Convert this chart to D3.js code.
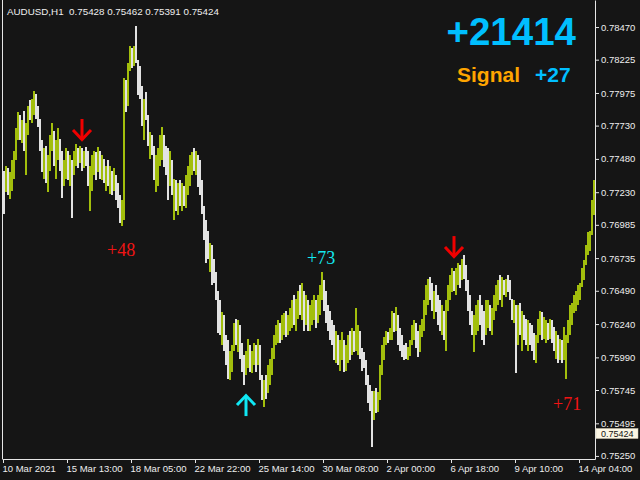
<!DOCTYPE html>
<html><head><meta charset="utf-8">
<script src="https://cdn.jsdelivr.net/npm/d3@7/dist/d3.min.js"></script>
<style>html,body{margin:0;padding:0;background:#151515;overflow:hidden}</style>
</head><body>
<svg id="chart" width="640" height="480"></svg>
<script>
// AUDUSD H1 bars (each entry here = one 2-hour slot), prices in units of 0.0001
const firstOpen = 7730;
const highs = [
7739,7743,7741,7738,7747,7754,7771,7783,7781,7777,
7784,7775,7788,7792,7793,7799,7797,7788,7778,7762,
7756,7758,7751,7766,7775,7769,7762,7771,7763,7754,
7747,7756,7754,7751,7747,7754,7759,7756,7758,7756,
7754,7757,7754,7743,7751,7754,7753,7757,7754,7751,
7748,7743,7747,7743,7739,7741,7736,7730,7721,7717,
7809,7807,7820,7833,7831,7833,7848,7822,7818,7803,
7793,7798,7781,7768,7766,7758,7751,7756,7766,7772,
7766,7758,7756,7754,7747,7733,7732,7730,7732,7730,
7728,7736,7743,7751,7753,7756,7754,7751,7747,7732,
7713,7702,7694,7685,7683,7673,7663,7649,7642,7633,
7631,7616,7612,7604,7608,7625,7628,7627,7623,7610,
7601,7604,7613,7608,7604,7610,7608,7613,7608,7586,
7582,7586,7593,7598,7606,7616,7623,7627,7625,7631,
7632,7634,7631,7636,7642,7646,7643,7649,7653,7655,
7649,7646,7642,7638,7642,7646,7642,7646,7653,7663,
7657,7649,7638,7634,7627,7623,7619,7616,7612,7618,
7612,7608,7616,7619,7621,7619,7636,7623,7619,7606,
7603,7597,7586,7578,7574,7574,7576,7573,7593,7608,
7614,7619,7618,7621,7634,7632,7637,7631,7621,7616,
7608,7610,7607,7612,7623,7627,7625,7619,7623,7628,
7642,7653,7658,7659,7655,7649,7653,7646,7642,7638,
7634,7642,7653,7661,7666,7664,7666,7670,7668,7673,
7676,7668,7657,7646,7634,7631,7638,7642,7646,7638,
7634,7642,7642,7638,7636,7646,7653,7657,7661,7659,
7657,7658,7661,7657,7643,7642,7638,7638,7640,7634,
7631,7628,7627,7625,7623,7617,7616,7628,7634,7633,
7629,7627,7625,7628,7627,7622,7619,7616,7613,7612,
7622,7616,7627,7638,7640,7646,7649,7653,7655,7666,
7672,7683,7693,7694,7717,7732];
const lows = [
7707,7723,7721,7718,7724,7733,7747,7762,7762,7760,
7754,7736,7766,7777,7775,7781,7778,7772,7754,7738,
7733,7730,7723,7739,7754,7743,7733,7747,7739,7719,
7728,7733,7732,7728,7704,7736,7743,7741,7745,7739,
7741,7743,7728,7709,7724,7736,7732,7738,7733,7732,
7730,7724,7728,7722,7721,7724,7717,7711,7700,7698,
7702,7783,7788,7814,7816,7818,7820,7796,7793,7773,
7762,7777,7758,7748,7751,7732,7723,7728,7743,7747,
7742,7736,7717,7728,7721,7702,7709,7706,7713,7709,
7713,7711,7721,7728,7736,7739,7736,7727,7721,7707,
7687,7670,7673,7663,7653,7655,7642,7617,7616,7608,
7604,7593,7583,7582,7588,7604,7608,7603,7598,7588,
7578,7586,7591,7588,7587,7593,7588,7593,7582,7567,
7562,7568,7572,7578,7586,7598,7608,7610,7610,7612,
7616,7614,7616,7619,7621,7623,7619,7628,7631,7627,
7619,7623,7619,7619,7623,7627,7621,7625,7631,7642,
7634,7625,7619,7612,7608,7597,7595,7593,7589,7597,
7588,7589,7595,7597,7601,7603,7604,7601,7598,7589,
7591,7578,7565,7559,7532,7552,7557,7558,7567,7586,
7597,7608,7610,7612,7612,7618,7619,7608,7604,7599,
7597,7598,7597,7600,7608,7612,7606,7599,7603,7614,
7619,7631,7638,7642,7634,7628,7633,7623,7619,7616,
7612,7604,7634,7642,7648,7649,7646,7653,7651,7657,
7658,7649,7634,7623,7616,7603,7616,7619,7623,7612,
7608,7616,7621,7619,7616,7627,7634,7638,7642,7637,
7646,7644,7648,7642,7627,7625,7587,7608,7616,7604,
7612,7608,7604,7608,7604,7597,7595,7610,7616,7612,
7613,7610,7612,7613,7610,7604,7598,7595,7597,7595,
7597,7583,7610,7616,7623,7632,7634,7638,7642,7652,
7657,7668,7676,7679,7691,7706];
const closes = [
7728,7738,7726,7732,7743,7751,7769,7778,7768,7773,
7762,7769,7784,7781,7790,7795,7783,7777,7758,7743,
7753,7739,7747,7762,7771,7747,7754,7766,7743,7736,
7739,7753,7736,7747,7739,7751,7754,7747,7754,7743,
7751,7747,7732,7736,7747,7748,7739,7751,7743,7747,
7736,7739,7732,7736,7728,7732,7721,7717,7706,7709,
7803,7792,7814,7826,7822,7829,7822,7814,7799,7781,
7788,7784,7762,7762,7756,7739,7747,7751,7762,7766,
7754,7747,7728,7739,7724,7724,7717,7724,7721,7726,
7717,7732,7739,7747,7748,7743,7747,7736,7724,7713,
7691,7687,7676,7679,7666,7661,7646,7634,7623,7625,
7612,7598,7589,7597,7604,7619,7612,7623,7604,7593,
7586,7597,7608,7593,7601,7604,7591,7608,7583,7574,
7578,7574,7589,7595,7603,7612,7619,7623,7619,7627,
7628,7619,7627,7631,7634,7627,7638,7642,7634,7649,
7631,7634,7627,7631,7634,7638,7627,7642,7649,7653,
7642,7631,7623,7619,7612,7604,7612,7598,7604,7608,
7593,7604,7612,7604,7616,7608,7616,7619,7603,7597,
7593,7582,7571,7567,7544,7571,7563,7568,7589,7604,
7612,7616,7613,7616,7631,7623,7633,7612,7608,7604,
7603,7601,7606,7608,7619,7623,7612,7604,7619,7625,
7638,7649,7653,7649,7642,7646,7638,7628,7623,7631,
7619,7634,7649,7657,7661,7657,7663,7664,7655,7668,
7664,7653,7638,7627,7619,7623,7627,7634,7627,7619,
7616,7634,7638,7627,7631,7642,7649,7653,7646,7653,
7649,7655,7653,7646,7631,7634,7627,7631,7619,7627,
7623,7616,7619,7612,7608,7604,7608,7623,7631,7619,
7619,7623,7616,7625,7616,7608,7612,7601,7604,7598,
7608,7612,7623,7634,7636,7642,7646,7649,7652,7663,
7668,7679,7688,7691,7713,7728];
const UNIT = 1e-4;

const priceTicks = [0.78470,0.78225,0.77975,0.77730,0.77480,0.77230,0.76985,0.76735,0.76490,0.76240,0.75990,0.75745,0.75495,0.75250];
const timeTickIdx = [0,32,64,96,128,160,192,224,256,288];
const timeLabels = ["10 Mar 2021","15 Mar 13:00","18 Mar 05:00","22 Mar 22:00","25 Mar 14:00","30 Mar 08:00","2 Apr 00:00","6 Apr 18:00","9 Apr 10:00","14 Apr 04:00"];
const header = "AUDUSD,H1  0.75428 0.75462 0.75391 0.75424";
const lastPrice = 0.75424;
const totalScore = "+21414";
const signalScore = "+27";
// signal arrows: bar index, direction, tip price
const arrowIdx = [39, 121, 225];
const arrowDir = ["down", "up", "down"];
const arrowPrice = [0.77622, 0.75707, 0.76743];
// profit labels
const profitIdx = [52, 152, 275];
const profitText = ["+48", "+73", "+71"];
const profitPrice = [0.76796, 0.76736, 0.75640];
const profitColor = ["#f01414", "#14e8f0", "#f01414"];

const BG = "#151515", BULL = "#a2be0c", BEAR = "#e2e2e2", FRAME = "#e6e6e6", TXT = "#eeeeee";
const FONT = "'Liberation Sans',Arial,sans-serif";
const svg = d3.select("#chart");
svg.append("rect").attr("width",640).attr("height",480).attr("fill",BG);

const N = highs.length;
const x = d3.scaleLinear().domain([0, N]).range([3, 595]);
const y = d3.scaleLinear().domain([0.75227, 0.78673]).range([459, 0]);

svg.append("clipPath").attr("id","clip").append("rect").attr("x",3).attr("y",0).attr("width",592).attr("height",459);

const bars = d3.range(N).map(i => ({
  i, h: highs[i]*UNIT, l: lows[i]*UNIT, c: closes[i]*UNIT,
  o: (i === 0 ? firstOpen : closes[i-1]) * UNIT
}));
svg.append("g").attr("clip-path","url(#clip)")
  .selectAll("rect").data(bars).join("rect")
  .attr("x", d => x(d.i))
  .attr("width", d => x(d.i+1) - x(d.i))
  .attr("y", d => Math.round(y(d.h)))
  .attr("height", d => Math.max(1, Math.round(y(d.l)) - Math.round(y(d.h))))
  .attr("fill", d => d.c >= d.o ? BULL : BEAR)
  .attr("shape-rendering","crispEdges");

// right price axis
const yAxis = d3.axisRight(y).tickValues(priceTicks).tickFormat(d3.format(".5f")).tickSize(4).tickSizeOuter(0);
const gy = svg.append("g").attr("transform","translate(595,0)").call(yAxis);
gy.select(".domain").attr("stroke",FRAME);
gy.selectAll(".tick line").attr("stroke",FRAME);
gy.selectAll(".tick text").attr("x",6).attr("fill",TXT)
  .attr("font-family",FONT).attr("font-size","9.5px");

// bottom time axis
const xAxis = d3.axisBottom(x).tickValues(timeTickIdx).tickFormat((d,i) => timeLabels[i]).tickSize(4).tickSizeOuter(0);
const gx = svg.append("g").attr("transform","translate(0,459)").call(xAxis);
gx.select(".domain").attr("stroke",FRAME);
gx.selectAll(".tick line").attr("stroke",FRAME);
gx.selectAll(".tick text").attr("text-anchor","start").attr("x",-1).attr("y",6).attr("fill",TXT)
  .attr("font-family",FONT).attr("font-size","9.5px");

// left frame
svg.append("line").attr("x1",2.5).attr("x2",2.5).attr("y1",0).attr("y2",459.5).attr("stroke",FRAME);

// last price box
const ly = y(lastPrice);
svg.append("rect").attr("x",596).attr("y",Math.round(ly)-4.5).attr("width",42).attr("height",10)
  .attr("fill","#fbf6e4").attr("stroke","#cfc9b4").attr("stroke-width",0.5);
svg.append("text").attr("x",601).attr("y",Math.round(ly)+0.5).attr("dy","0.34em").text(lastPrice.toFixed(5))
  .attr("fill","#111").attr("font-family",FONT).attr("font-size","9px");

// header
svg.append("text").attr("x",7).attr("y",15).text(header).attr("fill",TXT)
  .attr("font-family",FONT).attr("font-size","9.8px").style("white-space","pre");

// big score
svg.append("text").attr("x",576).attr("y",45).attr("text-anchor","end").text(totalScore)
  .attr("fill","#00bfff").attr("font-family",FONT).attr("font-weight","bold").attr("font-size","38.5px");
svg.append("text").attr("x",457).attr("y",82).text("Signal")
  .attr("fill","#ffa500").attr("font-family",FONT).attr("font-weight","bold").attr("font-size","21px");
svg.append("text").attr("x",535).attr("y",82).text(signalScore)
  .attr("fill","#00bfff").attr("font-family",FONT).attr("font-weight","bold").attr("font-size","21px");

// arrows
arrowIdx.forEach((idx, k) => {
  const cx = x(idx) + 1, ty = y(arrowPrice[k]);
  const s = arrowDir[k] === "down" ? -1 : 1; // shaft direction from tip
  const col = arrowDir[k] === "down" ? "#f00000" : "#10e8f4";
  const g = svg.append("g").attr("stroke",col).attr("stroke-width",3).attr("fill","none");
  g.append("line").attr("x1",cx).attr("x2",cx).attr("y1",ty + s*1).attr("y2",ty + s*21);
  g.append("path").attr("d",`M${cx-9},${ty+s*10} L${cx},${ty+s*0.5} L${cx+9},${ty+s*10}`)
    .attr("stroke-linejoin","miter");
});

// profit labels
profitIdx.forEach((idx,k) => {
  svg.append("text").attr("x",x(idx)).attr("y",y(profitPrice[k])).attr("dy","0.35em")
    .text(profitText[k]).attr("fill",profitColor[k])
    .attr("font-family","'Liberation Serif','Times New Roman',serif").attr("font-size","18px");
});
</script>
</body></html>
